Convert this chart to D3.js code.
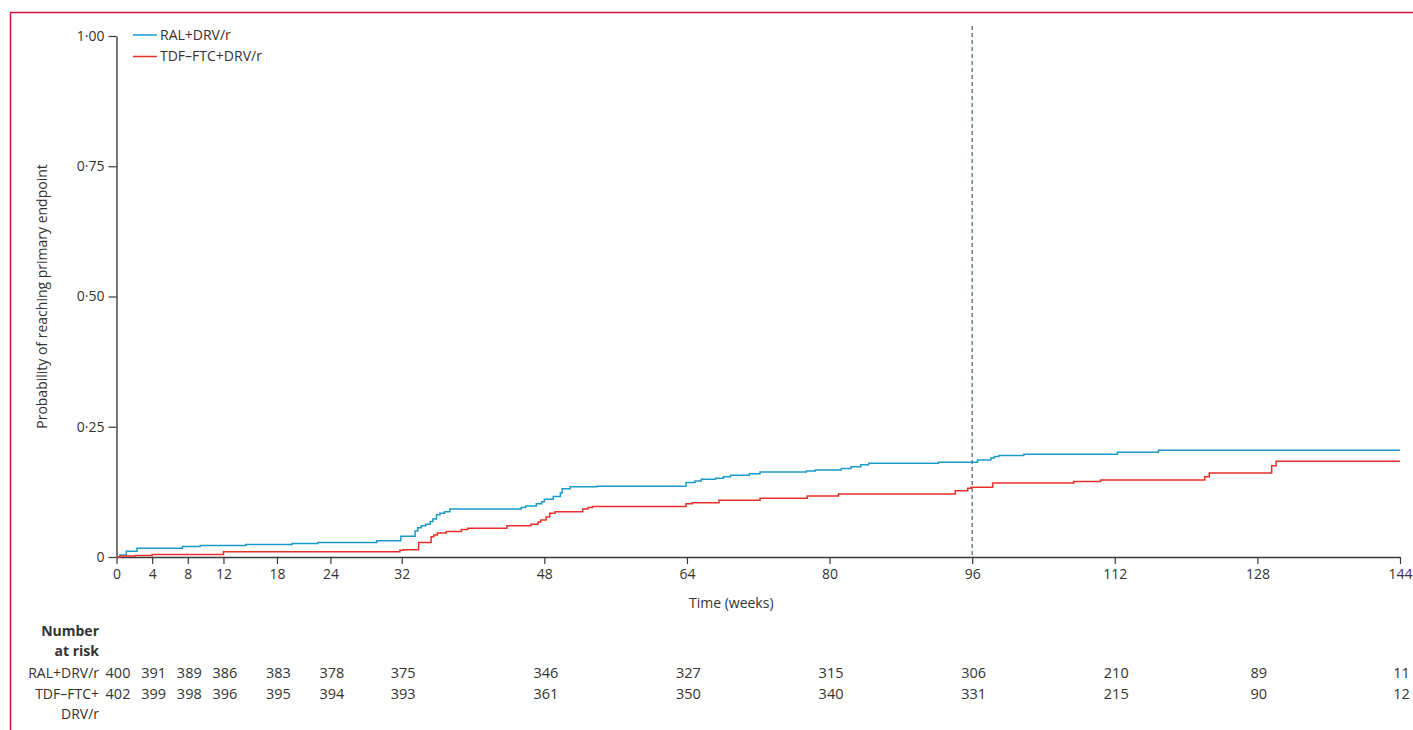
<!DOCTYPE html>
<html>
<head>
<meta charset="utf-8">
<script src="https://cdn.jsdelivr.net/npm/d3@7"></script>
<style>
  html, body { margin: 0; padding: 0; background: #fff; }
  svg text { font-family: "Open Sans", "Noto Sans", sans-serif; fill: #333; }
</style>
</head>
<body>
<svg id="chart" width="1413" height="730"></svg>
<script>
// Cumulative probability of reaching the primary endpoint (step functions)
const ralWeeks = [0, 0.4, 1.1, 2.3, 7.4, 9.4, 14.5, 19.7, 22.6, 29.2,
  31.9, 33.5, 33.8, 34.2, 34.7, 35.2, 35.5, 35.9, 36.3, 36.8,
  37.4, 45.4, 45.9, 47.1, 47.7, 48.0, 49.0, 49.8, 50.0, 50.9,
  53.9, 63.9, 64.9, 65.6, 67.2, 68.1, 68.9, 71.0, 72.2, 77.4,
  78.4, 81.3, 82.4, 83.5, 84.4, 92.2, 96.6, 98.1, 98.5, 99.0,
  101.8, 112.3, 116.9, 144];
const ralProb = [0, 0.004, 0.011, 0.017, 0.020, 0.022, 0.024, 0.026, 0.028, 0.031,
  0.040, 0.050, 0.056, 0.060, 0.063, 0.068, 0.073, 0.081, 0.084, 0.087,
  0.092, 0.095, 0.098, 0.102, 0.106, 0.111, 0.116, 0.123, 0.131, 0.135,
  0.136, 0.143, 0.146, 0.149, 0.151, 0.154, 0.157, 0.160, 0.163, 0.165,
  0.167, 0.170, 0.173, 0.177, 0.180, 0.182, 0.186, 0.190, 0.193, 0.195,
  0.197, 0.201, 0.205, 0.205];

const tdfWeeks = [0, 0.4, 2.1, 4.0, 12.0, 31.8, 32.2, 33.9, 35.3, 35.6,
  36.0, 37.0, 38.7, 39.4, 43.8, 46.5, 47.3, 47.6, 48.2, 48.6,
  49.2, 52.3, 52.9, 53.4, 63.9, 64.6, 67.6, 72.2, 77.5, 81.0,
  94.1, 95.5, 95.9, 98.3, 107.4, 110.4, 122.1, 122.6, 129.6, 130.1,
  144];
const tdfProb = [0, 0.002, 0.003, 0.005, 0.010, 0.013, 0.014, 0.028, 0.039, 0.042,
  0.046, 0.049, 0.053, 0.055, 0.060, 0.063, 0.067, 0.071, 0.077, 0.084,
  0.087, 0.092, 0.095, 0.097, 0.102, 0.104, 0.109, 0.113, 0.117, 0.121,
  0.127, 0.132, 0.134, 0.142, 0.145, 0.148, 0.154, 0.161, 0.175, 0.184,
  0.184];

// Axis ticks
const xTicks = [0, 4, 8, 12, 18, 24, 32, 48, 64, 80, 96, 112, 128, 144];
const yTicks = [0, 0.25, 0.5, 0.75, 1];

// Number at risk at each x tick
const riskGroups = ["RAL+DRV/r", "TDF–FTC+DRV/r"];
const ralAtRisk = [400, 391, 389, 386, 383, 378, 375, 346, 327, 315, 306, 210, 89, 11];
const tdfAtRisk = [402, 399, 398, 396, 395, 394, 393, 361, 350, 340, 331, 215, 90, 12];

const referenceWeek = 96;

const colors = { ral: "#1a9bc7", tdf: "#e5302a" };

const svg = d3.select("#chart");

// Page frame (top and left rules)
svg.append("path")
  .attr("d", "M10.5,730 V12.5 H1413")
  .attr("fill", "none")
  .attr("stroke", "#c8163f")
  .attr("stroke-width", 1.5);

const x = d3.scaleLinear().domain([0, 144]).range([116.5, 1400]);
const y = d3.scaleLinear().domain([0, 1]).range([557, 36]);

const fmtY = v => v === 0 ? "0" : d3.format(".2f")(v).replace(".", "·");

// Y axis
const gy = svg.append("g")
  .attr("transform", `translate(${x(0)},0)`)
  .call(d3.axisLeft(y).tickValues(yTicks).tickFormat(fmtY).tickSize(8).tickSizeOuter(0).tickPadding(4));
gy.select(".domain").attr("stroke", "#3a3a3a").attr("stroke-width", 1.4);
gy.selectAll(".tick line").attr("stroke", "#3a3a3a").attr("stroke-width", 1.2);
gy.selectAll(".tick text").attr("font-size", 14).attr("fill", "#333")
  .style("font-family", "'Open Sans', sans-serif");

// X axis
const gx = svg.append("g")
  .attr("transform", `translate(0,${y(0)})`)
  .call(d3.axisBottom(x).tickValues(xTicks).tickFormat(d3.format("d")).tickSize(7).tickSizeOuter(0).tickPadding(5));
gx.select(".domain").attr("stroke", "#3a3a3a").attr("stroke-width", 1.4);
gx.selectAll(".tick line").attr("stroke", "#3a3a3a").attr("stroke-width", 1.2);
gx.selectAll(".tick text").attr("font-size", 14).attr("fill", "#333")
  .style("font-family", "'Open Sans', sans-serif");

// Axis titles
svg.append("text")
  .attr("x", (x(0) + x(144)) / 2 - 27)
  .attr("y", 608)
  .attr("text-anchor", "middle")
  .attr("font-size", 14)
  .text("Time (weeks)");

svg.append("text")
  .attr("transform", `translate(47,${y(0.5)}) rotate(-90)`)
  .attr("text-anchor", "middle")
  .attr("font-size", 14)
  .text("Probability of reaching primary endpoint");

// Week 96 reference line
svg.append("line")
  .attr("x1", x(referenceWeek)).attr("x2", x(referenceWeek))
  .attr("y1", 26).attr("y2", y(0))
  .attr("stroke", "#4a5e70")
  .attr("stroke-width", 1.2)
  .attr("stroke-dasharray", "4,3");

// Step curves
const stepLine = d3.line()
  .x(d => x(d[0]))
  .y(d => y(d[1]))
  .curve(d3.curveStepAfter);

const series = [
  { key: "ral", weeks: ralWeeks, prob: ralProb },
  { key: "tdf", weeks: tdfWeeks, prob: tdfProb }
];

series.forEach(s => {
  svg.append("path")
    .datum(d3.zip(s.weeks, s.prob))
    .attr("d", stepLine)
    .attr("fill", "none")
    .attr("stroke", colors[s.key])
    .attr("stroke-width", 1.5);
});

// Legend
const legend = svg.append("g").attr("transform", "translate(133,35)");
[["ral", riskGroups[0]], ["tdf", riskGroups[1]]].forEach(([k, label], i) => {
  const g = legend.append("g").attr("transform", `translate(0,${i * 21.5})`);
  g.append("line").attr("x1", 0).attr("x2", 24).attr("y1", 0).attr("y2", 0)
    .attr("stroke", colors[k]).attr("stroke-width", 1.5);
  g.append("text").attr("x", 27).attr("y", 0).attr("dy", "0.35em")
    .attr("font-size", 14).text(label);
});

// Number at risk table
const risk = svg.append("g");
risk.append("text").attr("x", 99).attr("y", 636).attr("text-anchor", "end")
  .attr("font-size", 14).attr("font-weight", "bold").text("Number");
risk.append("text").attr("x", 99).attr("y", 656).attr("text-anchor", "end")
  .attr("font-size", 14).attr("font-weight", "bold").text("at risk");

risk.append("text").attr("x", 99).attr("y", 678).attr("text-anchor", "end")
  .attr("font-size", 14).text(riskGroups[0]);
risk.append("text").attr("x", 99).attr("y", 698.5).attr("text-anchor", "end")
  .attr("font-size", 14).text("TDF–FTC+");
risk.append("text").attr("x", 99).attr("y", 719).attr("text-anchor", "end")
  .attr("font-size", 14).text("DRV/r");

[[ralAtRisk, 678], [tdfAtRisk, 698.5]].forEach(([vals, yy]) => {
  risk.selectAll(null)
    .data(xTicks.map((t, i) => ({ t, n: vals[i] })))
    .enter().append("text")
    .attr("x", d => x(d.t) + 1.5)
    .attr("y", yy)
    .attr("text-anchor", "middle")
    .attr("font-size", 14.5)
    .text(d => d.n);
});
</script>
</body>
</html>
